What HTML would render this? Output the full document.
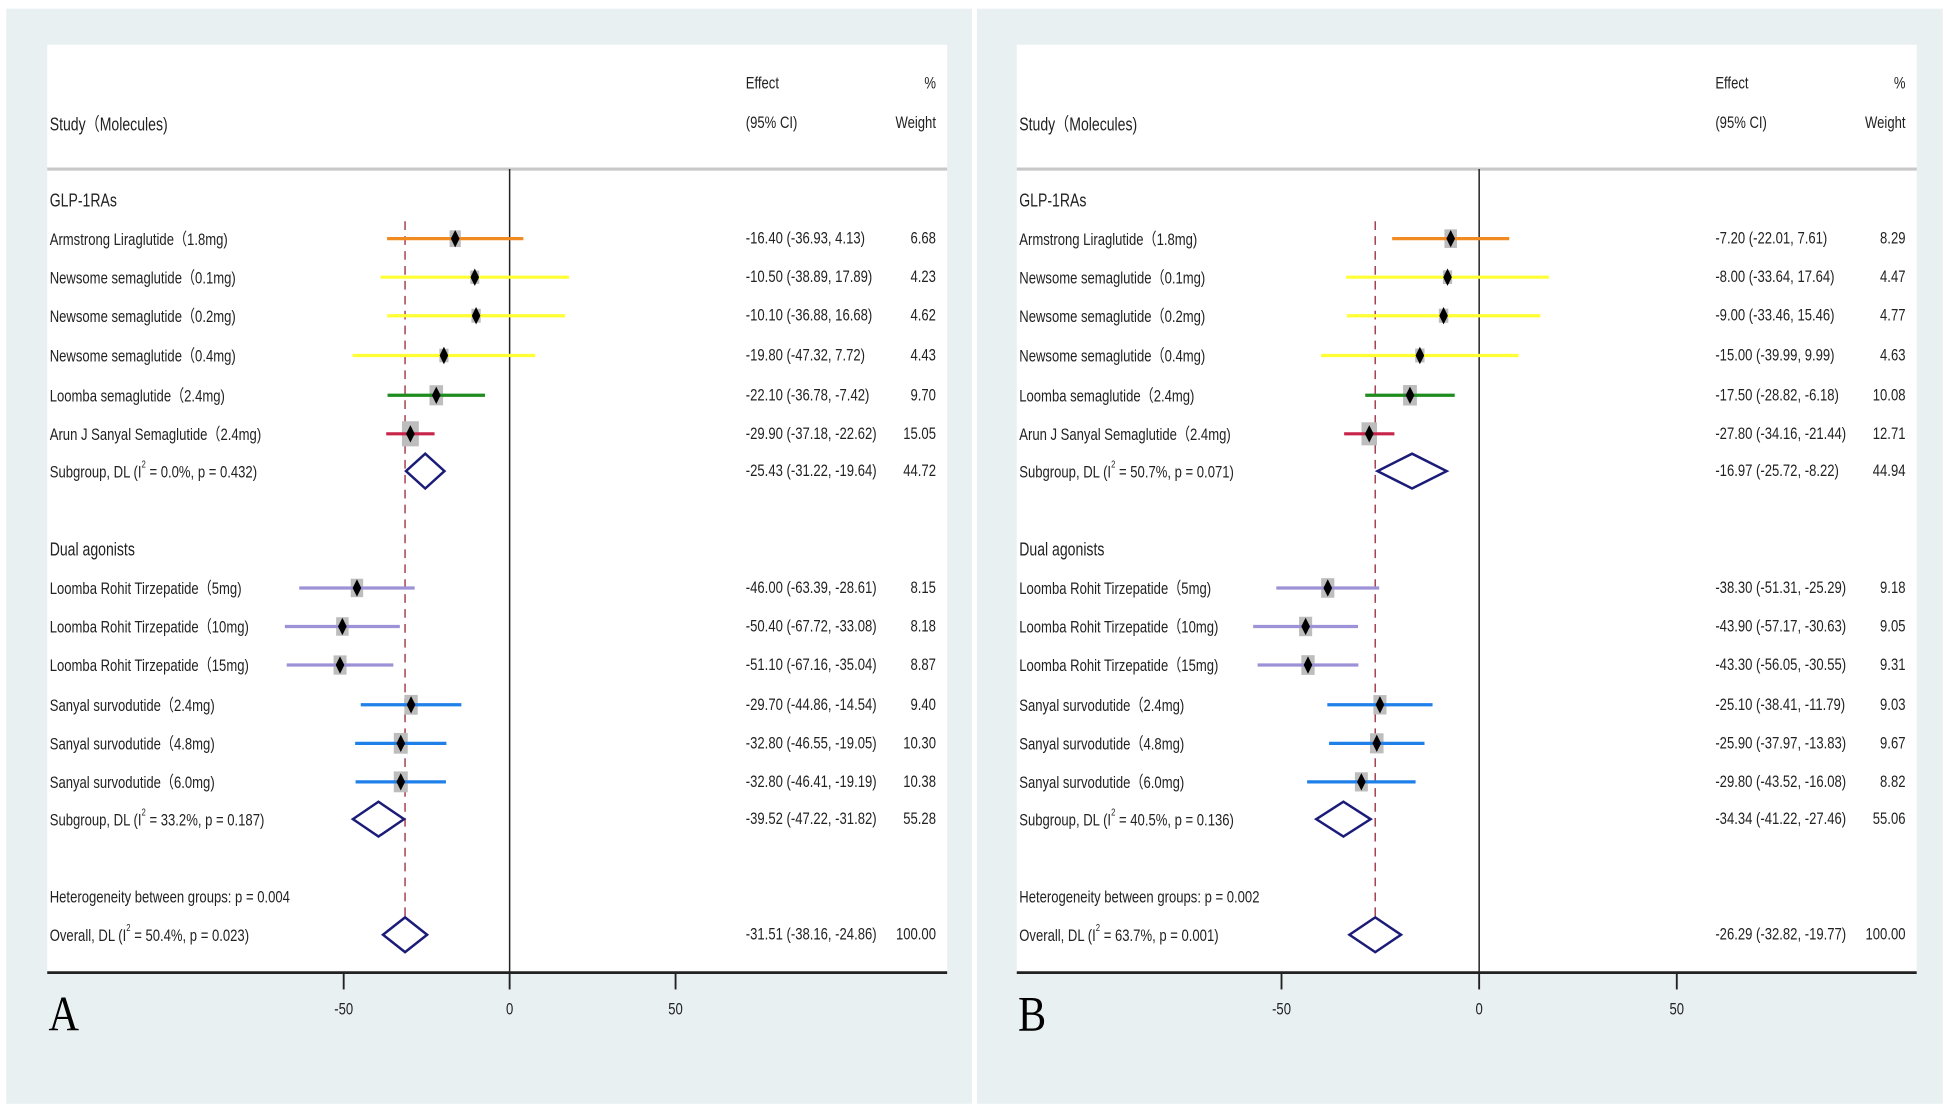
<!DOCTYPE html>
<html><head><meta charset="utf-8"><style>
html,body{margin:0;padding:0;background:#fff}
svg{display:block}
text{font-family:"Liberation Sans","Noto Sans CJK SC",sans-serif;fill:#222}
</style></head><body>
<svg id="chart" width="1949" height="1113" viewBox="0 0 1568 895.4" preserveAspectRatio="none" xmlns="http://www.w3.org/2000/svg"></svg>
<script>
// ---- data ----
const studyLabels = ["Armstrong Liraglutide（1.8mg)","Newsome semaglutide（0.1mg)","Newsome semaglutide（0.2mg)","Newsome semaglutide（0.4mg)","Loomba semaglutide（2.4mg)","Arun J Sanyal Semaglutide（2.4mg)","Loomba Rohit Tirzepatide（5mg)","Loomba Rohit Tirzepatide（10mg)","Loomba Rohit Tirzepatide（15mg)","Sanyal survodutide（2.4mg)","Sanyal survodutide（4.8mg)","Sanyal survodutide（6.0mg)"];
const studyColors = ["#f28a22","#ffff33","#ffff33","#ffff33","#1e8c1e","#c8244a","#9d92d8","#9d92d8","#9d92d8","#1f80ea","#1f80ea","#1f80ea"];
const effA = [-16.40,-10.50,-10.10,-19.80,-22.10,-29.90,-46.00,-50.40,-51.10,-29.70,-32.80,-32.80];
const lowA = [-36.93,-38.89,-36.88,-47.32,-36.78,-37.18,-63.39,-67.72,-67.16,-44.86,-46.55,-46.41];
const highA = [4.13,17.89,16.68,7.72,-7.42,-22.62,-28.61,-33.08,-35.04,-14.54,-19.05,-19.19];
const wA = [6.68,4.23,4.62,4.43,9.70,15.05,8.15,8.18,8.87,9.40,10.30,10.38];
const subEffA = [-25.43,-39.52], subLowA = [-31.22,-47.22], subHighA = [-19.64,-31.82], subWA = [44.72,55.28];
const subI2A = ["0.0%","33.2%"], subPA = ["0.432","0.187"];
const overallA = [-31.51,-38.16,-24.86], overallI2A = "50.4%", overallPA = "0.023", hetPA = "0.004";

const effB = [-7.20,-8.00,-9.00,-15.00,-17.50,-27.80,-38.30,-43.90,-43.30,-25.10,-25.90,-29.80];
const lowB = [-22.01,-33.64,-33.46,-39.99,-28.82,-34.16,-51.31,-57.17,-56.05,-38.41,-37.97,-43.52];
const highB = [7.61,17.64,15.46,9.99,-6.18,-21.44,-25.29,-30.63,-30.55,-11.79,-13.83,-16.08];
const wB = [8.29,4.47,4.77,4.63,10.08,12.71,9.18,9.05,9.31,9.03,9.67,8.82];
const subEffB = [-16.97,-34.34], subLowB = [-25.72,-41.22], subHighB = [-8.22,-27.46], subWB = [44.94,55.06];
const subI2B = ["50.7%","40.5%"], subPB = ["0.071","0.136"];
const overallB = [-26.29,-32.82,-19.77], overallI2B = "63.7%", overallPB = "0.001", hetPB = "0.002";

const groupNames = ["GLP-1RAs","Dual agonists"];
const xTicks = [-50,0,50];

// ---- drawing ----
const NS="http://www.w3.org/2000/svg";
const svg=document.getElementById('chart');
const SX=0.78;
function el(tag,attrs,parent){const e=document.createElementNS(NS,tag);for(const k in attrs)e.setAttribute(k,attrs[k]);(parent||svg).appendChild(e);return e;}
function txt(g,x,y,s,size,anchor){
  const t=el('text',{transform:`translate(${x},${y}) scale(${SX},1)`,'font-size':size||13.5,'text-anchor':anchor||'start'},g);
  t.textContent=s;return t;
}
function fmt(v){return v.toFixed(2);}
const rowY=[192,223,254,286,318,349,473,504,535,567,598,629];
const subY=[379,659];
function panel(cfg){
  const g=el('g',{});
  
  
  const bg=el('rect',{x:cfg.bx,y:7,width:777,height:881,fill:'#e9f0f2'},g);
  
  
  const pa=el('rect',{x:cfg.px,y:36,width:724,height:746,fill:'#fff'},g);
  
  
  const X=v=>cfg.zero+v*cfg.scale;
  let h=txt(g,cfg.px+2,105,'Study（Molecules)',14.5);
  
  
  h=txt(g,cfg.px+562,71,'Effect',13.5);
  
  
  h=txt(g,cfg.px+562,103,'(95% CI)',13.5);
  
  
  h=txt(g,cfg.px+715,71,'%',13.5,'end');
  
  
  h=txt(g,cfg.px+715,103,'Weight',13.5,'end');
  
  
  const sep=el('line',{x1:cfg.px,x2:cfg.px+724,y1:136,y2:136,stroke:'#c8c8c8','stroke-width':2.5},g);
  
  
  const zl=el('line',{x1:X(0),x2:X(0),y1:136,y2:782,stroke:'#222','stroke-width':1.2},g);
  
  
  const dl=el('line',{x1:X(cfg.ov[0]),x2:X(cfg.ov[0]),y1:178,y2:766,stroke:'#a5424f','stroke-width':1.2,'stroke-dasharray':'7,5'},g);
  
  
  for(let i=0;i<2;i++){
    const gn=txt(g,cfg.px+2,166+i*281,groupNames[i],14.5);
    
    
  }
  for(let i=0;i<studyLabels.length;i++){
    const y=rowY[i];
    const lb=txt(g,cfg.px+2,y+5,studyLabels[i],13.5);
    
    
    const s=Math.sqrt(cfg.w[i]);
    const bx=el('rect',{x:X(cfg.eff[i])-1.75*s,y:y-2.6*s,width:3.5*s,height:5.2*s,fill:'#bdbdbd'},g);
    
    
    const ci=el('line',{x1:X(cfg.low[i]),x2:X(cfg.high[i]),y1:y,y2:y,stroke:studyColors[i],'stroke-width':2.6},g);
    
    
    const cx=X(cfg.eff[i]);
    const pt=el('polygon',{points:`${cx},${y-7} ${cx+3.5},${y} ${cx},${y+7} ${cx-3.5},${y}`,fill:'#000'},g);
    
    
    const et=txt(g,cfg.px+562,y+4,`${fmt(cfg.eff[i])} (${fmt(cfg.low[i])}, ${fmt(cfg.high[i])})`,13.5);
    
    
    const wt=txt(g,cfg.px+715,y+4,fmt(cfg.w[i]),13.5,'end');
    
    
  }
  function diamond(e,l,hh,y,name){
    const d=el('polygon',{points:`${X(l)},${y} ${X(e)},${y-14} ${X(hh)},${y} ${X(e)},${y+14}`,fill:'#fff',stroke:'#1b1b78','stroke-width':2},g);
    
    
  }
  for(let i=0;i<2;i++){
    const y=subY[i];
    diamond(cfg.subE[i],cfg.subL[i],cfg.subH[i],y,'subgroup-diamond');
    const t=el('text',{transform:`translate(${cfg.px+2},${y+5}) scale(${SX},1)`,'font-size':13.5},g);
    t.innerHTML=`Subgroup, DL (I<tspan font-size="8" dy="-8">2</tspan><tspan dy="8"> = ${cfg.subI2[i]}, p = ${cfg.subP[i]})</tspan>`;
    
    
    const et=txt(g,cfg.px+562,y+4,`${fmt(cfg.subE[i])} (${fmt(cfg.subL[i])}, ${fmt(cfg.subH[i])})`,13.5);
    
    
    const wt=txt(g,cfg.px+715,y+4,fmt(cfg.subW[i]),13.5,'end');
    
    
  }
  const ht=txt(g,cfg.px+2,726,`Heterogeneity between groups: p = ${cfg.het}`,13.5);
  
  
  diamond(cfg.ov[0],cfg.ov[1],cfg.ov[2],752,'overall-diamond');
  const ot=el('text',{transform:`translate(${cfg.px+2},757) scale(${SX},1)`,'font-size':13.5},g);
  ot.innerHTML=`Overall, DL (I<tspan font-size="8" dy="-8">2</tspan><tspan dy="8"> = ${cfg.ovI2}, p = ${cfg.ovP})</tspan>`;
  
  
  const oe=txt(g,cfg.px+562,756,`${fmt(cfg.ov[0])} (${fmt(cfg.ov[1])}, ${fmt(cfg.ov[2])})`,13.5);
  
  
  const ow=txt(g,cfg.px+715,756,'100.00',13.5,'end');
  
  
  const ax=el('line',{x1:cfg.px,x2:cfg.px+724,y1:782.5,y2:782.5,stroke:'#222','stroke-width':2.2},g);
  
  
  for(const t of xTicks){
    const tk=el('line',{x1:X(t),x2:X(t),y1:782,y2:796,stroke:'#222','stroke-width':1.5},g);
    
    
    const tl=txt(g,X(t),816,String(t),13.5,'middle');
    
    
  }
  const L=el('text',{transform:`translate(${cfg.px+1},829) scale(0.85,1)`,style:'font-family:"Liberation Serif",serif;font-size:40px;fill:#000'},g);
  L.textContent=cfg.letter;
  
  
}
panel({name:'panel-a',letter:'A',bx:5,px:38,zero:410,scale:2.67,eff:effA,low:lowA,high:highA,w:wA,subE:subEffA,subL:subLowA,subH:subHighA,subW:subWA,subI2:subI2A,subP:subPA,ov:overallA,ovI2:overallI2A,ovP:overallPA,het:hetPA});
panel({name:'panel-b',letter:'B',bx:786,px:818,zero:1190,scale:3.18,eff:effB,low:lowB,high:highB,w:wB,subE:subEffB,subL:subLowB,subH:subHighB,subW:subWB,subI2:subI2B,subP:subPB,ov:overallB,ovI2:overallI2B,ovP:overallPB,het:hetPB});
</script>
</body></html>
